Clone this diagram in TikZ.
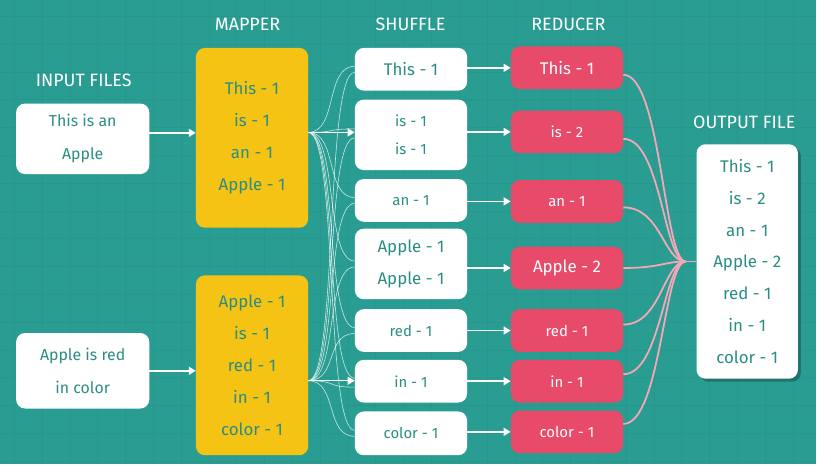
\documentclass[tikz,border=0pt]{standalone}
\usepackage{fontspec}
\setmainfont{Fira Sans}
\usetikzlibrary{arrows.meta}
\definecolor{bg}{HTML}{2A9D93}
\definecolor{gridc}{HTML}{28968D}
\definecolor{ylw}{HTML}{F5C314}
\definecolor{rd}{HTML}{E84A6A}
\definecolor{txt}{HTML}{2A8E84}
\definecolor{pinkl}{HTML}{F4A7B6}
\tikzset{
 box/.style={rounded corners=9pt, inner sep=0pt, align=center, text=txt},
 wbox/.style={box, fill=white},
 ybox/.style={box, fill=ylw, minimum width=113pt, minimum height=181pt, font=\fontsize{17}{32}\selectfont},
 rbox/.style={box, fill=rd, text=white, minimum width=113pt, minimum height=43pt},
 sbox/.style={wbox, minimum width=113pt},
 head/.style={text=white, font=\fontsize{18}{20}\selectfont},
 arr/.style={white, line width=1.5pt, -{Triangle[length=7pt,width=8pt]}},
 fan/.style={white, opacity=0.75, line width=0.6pt},
 pk/.style={pinkl, line width=1.8pt},
 big/.style={font=\fontsize{17}{30}\selectfont},
 small/.style={font=\fontsize{15}{28}\selectfont},
}
\begin{document}
\begin{tikzpicture}[x=1pt,y=-1pt]
\fill[bg] (0,0) rectangle (821,467);
\foreach \i in {0,...,29} \draw[gridc, line width=0.5pt] (14+28*\i,0) -- (14+28*\i,467);
\foreach \i in {0,...,16} \draw[gridc, line width=0.5pt] (0,16+28*\i) -- (821,16+28*\i);
\useasboundingbox (0,0) rectangle (821,467);

% headings
\node[head] (hin) at (84,81) {INPUT FILES};
\node[head] (hmap) at (249,24) {MAPPER};
\node[head] (hsh) at (413,24) {SHUFFLE};
\node[head] (hred) at (572,24) {REDUCER};
\node[head] (hout) at (749,123) {OUTPUT FILE};

% input
\node[wbox, minimum width=134pt, minimum height=71pt, font=\fontsize{16}{33}\selectfont] (in1) at (83,139.5) {This is an\\Apple};
\node[wbox, minimum width=134pt, minimum height=76pt, font=\fontsize{16}{33}\selectfont] (in2) at (83,373) {Apple is red\\in color};

% mapper
\node[ybox] (map1) at (253.5,138.5) {This - 1\\is - 1\\an - 1\\Apple - 1};
\node[ybox] (map2) at (253.5,367.5) {Apple - 1\\is - 1\\red - 1\\in - 1\\color - 1};

% shuffle
\node[sbox, minimum height=43pt, big] (s1) at (413.5,69.5) {This - 1};
\node[sbox, minimum height=71pt, small] (s2) at (413.5,135.5) {is - 1\\is - 1};
\node[sbox, minimum height=43pt, small] (s3) at (413.5,201.5) {an - 1};
\node[sbox, minimum height=71pt, font=\fontsize{17}{32}\selectfont] (s4) at (413.5,265.5) {Apple - 1\\Apple - 1};
\node[sbox, minimum height=43pt, small] (s5) at (413.5,332.5) {red - 1};
\node[sbox, minimum height=43pt, small] (s6) at (413.5,383.5) {in - 1};
\node[sbox, minimum height=44pt, small] (s7) at (413.5,436) {color - 1};

% reducer
\node[rbox, big] (r1) at (570.5,68) {This - 1};
\node[rbox, small] (r2) at (570.5,132.5) {is - 2};
\node[rbox, small] (r3) at (570.5,202.5) {an - 1};
\node[rbox, big] (r4) at (570.5,269.5) {Apple - 2};
\node[rbox, small] (r5) at (570.5,332.5) {red - 1};
\node[rbox, small] (r6) at (570.5,383.5) {in - 1};
\node[rbox, small] (r7) at (570.5,434.5) {color - 1};

% output
\fill[black, opacity=0.25, rounded corners=9pt] (704,148) rectangle (806,384);
\node[wbox, minimum width=102pt, minimum height=236pt, font=\fontsize{17}{32}\selectfont] (out) at (752,263)
 {This - 1\\is - 2\\an - 1\\Apple - 2\\red - 1\\in - 1\\color - 1};

% input -> mapper
\draw[arr] (in1.east) ++(0,-6) coordinate (i1o) -- (i1o -| map1.west);
\draw[arr] (in2.east) coordinate (i2o) -- (i2o -| map2.west);

% mapper -> shuffle fan
\coordinate (m1o) at (310,133);
\coordinate (m2o) at (310,383);
\foreach \s in {s1,s3,s4,s5,s6,s7} \draw[fan] (m1o) .. controls +(30,0) and +(-30,0) .. ([yshift=3pt]\s.west);
\foreach \s in {s1,s2,s3,s4,s5,s7} \draw[fan] (m2o) .. controls +(30,0) and +(-30,0) .. ([yshift=-3pt]\s.west);
\draw[fan] (m1o) .. controls +(30,0) and +(-30,0) .. ([yshift=6pt]s2.west);
\draw[fan] (m2o) .. controls +(30,0) and +(-30,0) .. ([yshift=-6pt]s6.west);
\draw[arr] (m1o) -- (m1o -| s2.west);
\draw[arr] (m2o) -- (m2o -| s6.west);

% shuffle -> reducer
\foreach \a/\b in {s1/r1,s2/r2,s3/r3,s4/r4,s5/r5,s6/r6,s7/r7}
  \draw[arr] (\a.east |- \b) -- (\b.west);

% reducer -> output
\coordinate (cv) at (690,263);
\foreach \r/\d in {r1/7,r2/7,r3/6,r4/0,r5/-6,r6/-7,r7/-8}
  \draw[pk] ([yshift=-\d pt]\r.east) .. controls +(38,0) and (668,263) .. (cv);
\draw[pk] (cv) -- (out.west);
\end{tikzpicture}
\end{document}
